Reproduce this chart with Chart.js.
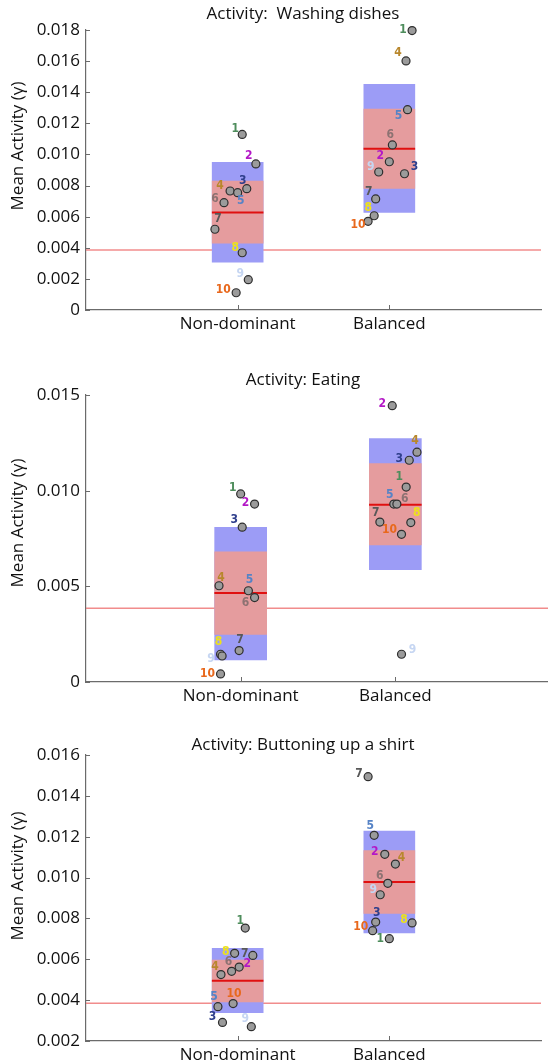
<!DOCTYPE html>
<html>
<head>
<meta charset="utf-8">
<script src="https://cdn.jsdelivr.net/npm/chart.js@4.4.1/dist/chart.umd.min.js"></script>
<style>
  html, body { margin: 0; padding: 0; background: #fff; overflow: hidden; }
  body { width: 548px; height: 1063px; position: relative; }
  .panel { position: absolute; left: 0; }
</style>
</head>
<body>
<div class="panel" style="top:0px"><canvas id="wash" width="548" height="345"></canvas></div>
<div class="panel" style="top:360px"><canvas id="eat" width="556" height="355"></canvas></div>
<div class="panel" style="top:725px"><canvas id="shirt" width="548" height="338"></canvas></div>
<script>
const categories = ["Non-dominant", "Balanced"];
const subjects = ["1", "2", "3", "4", "5", "6", "7", "8", "9", "10"];
const subjectColors = ["#4e8d5c", "#b318c6", "#2f3f8c", "#b8872c", "#5683c6", "#8d7272", "#585858", "#eee21a", "#c6d6f2", "#e8681c"];
const yLabel = "Mean Activity (\u03b3)";
const threshold = 0.00385;

// Washing dishes
const washTitle = "Activity:  Washing dishes";
const washNonDom = [0.01129, 0.00939, 0.00780, 0.00765, 0.00754, 0.00690, 0.00519, 0.00368, 0.00195, 0.00111];
const washBalanced = [0.01796, 0.00953, 0.00876, 0.01601, 0.01288, 0.01061, 0.00714, 0.00606, 0.00887, 0.00570];
const washNonDomJitter = [0.03, 0.12, 0.06, -0.05, 0.00, -0.09, -0.15, 0.03, 0.07, -0.01];
const washBalancedJitter = [0.15, 0.00, 0.10, 0.11, 0.12, 0.02, -0.09, -0.10, -0.07, -0.14];
const washMean = [0.00626, 0.01037];
const washSd = [[0.00307, 0.00949], [0.00628, 0.01451]];
const washSem = [[0.00429, 0.00829], [0.00782, 0.01292]];
const washTicks = [0, 0.002, 0.004, 0.006, 0.008, 0.010, 0.012, 0.014, 0.016, 0.018];

// Eating
const eatTitle = "Activity: Eating";
const eatNonDom = [0.00983, 0.00930, 0.00809, 0.00503, 0.00477, 0.00441, 0.00164, 0.00145, 0.00136, 0.00042];
const eatBalanced = [0.01019, 0.01444, 0.01159, 0.01201, 0.00930, 0.00930, 0.00836, 0.00833, 0.00145, 0.00772];
const eatNonDomJitter = [0.00, 0.09, 0.01, -0.14, 0.05, 0.09, -0.01, -0.13, -0.12, -0.13];
const eatBalancedJitter = [0.07, -0.02, 0.09, 0.14, -0.01, 0.01, -0.10, 0.10, 0.04, 0.04];
const eatMean = [0.00465, 0.00927];
const eatSd = [[0.00115, 0.00809], [0.00587, 0.01272]];
const eatSem = [[0.00249, 0.00680], [0.00716, 0.01141]];
const eatTicks = [0, 0.005, 0.010, 0.015];

// Buttoning up a shirt
const shirtTitle = "Activity: Buttoning up a shirt";
const shirtNonDom = [0.00753, 0.00562, 0.00291, 0.00525, 0.00368, 0.00541, 0.00619, 0.00629, 0.00270, 0.00383];
const shirtBalanced = [0.00701, 0.01114, 0.00782, 0.01066, 0.01207, 0.00972, 0.01494, 0.00778, 0.00916, 0.00740];
const shirtNonDomJitter = [0.05, 0.01, -0.10, -0.11, -0.13, -0.04, 0.10, -0.02, 0.09, -0.03];
const shirtBalancedJitter = [0.00, -0.03, -0.09, 0.04, -0.10, -0.01, -0.14, 0.15, -0.06, -0.11];
const shirtMean = [0.00495, 0.00978];
const shirtSd = [[0.00339, 0.00654], [0.00729, 0.01228]];
const shirtSem = [[0.00391, 0.00596], [0.00825, 0.01132]];
const shirtTicks = [0.002, 0.004, 0.006, 0.008, 0.010, 0.012, 0.014, 0.016];

// where each subject number sits next to its dot (px from dot centre)
const washNonDomLabels = [[-7,-6],[-7,-8],[-4,-8],[-10,-5],[3,8],[-9,-4],[3,-10],[-7,-5],[-8,-6],[-13,-3]];
const washBalancedLabels = [[-9,-1],[-9,-6],[10,-7],[-8,-8],[-9,6],[-2,-10],[-7,-7],[-6,-8],[-8,-5],[-10,4]];
const eatNonDomLabels = [[-8,-6],[-9,-1],[-8,-7],[2,-8],[1,-11],[-9,5],[1,-11],[-2,-12],[-11,3],[-13,0]];
const eatBalancedLabels = [[-7,-10],[-10,-2],[-10,-1],[-2,-11],[-4,-9],[8,-5],[-4,-9],[6,-10],[11,-4],[-12,-4]];
const shirtNonDomLabels = [[-5,-7],[8,-3],[-10,-6],[-6,-8],[-4,-10],[-3,-9],[-8,-2],[-9,-1],[-6,-8],[1,-10]];
const shirtBalancedLabels = [[-9,0],[-10,-2],[1,-9],[6,-6],[-4,-9],[-8,-7],[-9,-3],[-8,-3],[-7,-5],[-12,-4]];

const axisColor = "#6b6b6b";
const mainFont = "'Open Sans', 'DejaVu Sans', sans-serif";
const boxHalf = 0.17;

const panelDecor = {
    id: "panelDecor",
    afterDatasetsDraw(chart) {
        let ctx = chart.ctx;
        ctx.save();
        ctx.font = "bold 12px 'Liberation Sans Narrow', 'DejaVu Sans Condensed', sans-serif";
        ctx.textAlign = "center";
        ctx.textBaseline = "middle";
        chart.data.datasets.forEach((ds, i) => {
            if (!ds.labelOffsets) return;
            chart.getDatasetMeta(i).data.forEach((pt, j) => {
                ctx.fillStyle = subjectColors[j];
                ctx.fillText(subjects[j], pt.x + ds.labelOffsets[j][0], pt.y + ds.labelOffsets[j][1]);
            });
        });
        ctx.restore();
    },
    afterDraw(chart, args, opts) {
        let ctx = chart.ctx;
        let xs = chart.scales.x, ys = chart.scales.y;
        let area = chart.chartArea;
        ctx.save();
        // inward tick marks
        ctx.strokeStyle = axisColor;
        ctx.lineWidth = 1;
        ctx.beginPath();
        for (let t of ys.ticks) {
            let py = Math.round(ys.getPixelForValue(t.value)) + 0.5;
            ctx.moveTo(area.left, py);
            ctx.lineTo(area.left + 4, py);
        }
        for (let t of xs.ticks) {
            let px = Math.round(xs.getPixelForValue(t.value)) + 0.5;
            ctx.moveTo(px, area.bottom);
            ctx.lineTo(px, area.bottom - 5);
        }
        ctx.stroke();
        // title
        ctx.fillStyle = "#111";
        ctx.font = "17px " + mainFont;
        ctx.textAlign = "center";
        ctx.textBaseline = "middle";
        ctx.fillText(opts.title, opts.titleX, opts.titleY);
        // y axis title
        ctx.translate(18, opts.yLabelY);
        ctx.rotate(-Math.PI / 2);
        ctx.font = "17px " + mainFont;
        ctx.fillText(yLabel, 0, 0);
        ctx.restore();
    }
};

function makePanel(id, cfg) {
    let points = (vals, jit, cat) => vals.map((v, i) => ({ x: cat + jit[i], y: v }));
    let datasets = [
        {
            type: "line",
            data: [{ x: 0, y: threshold }, { x: 3, y: threshold }],
            borderColor: "rgba(238, 120, 120, 0.85)",
            borderWidth: 1.5,
            pointRadius: 0,
            order: 6
        },
        {
            type: "bar",
            data: categories.map((c, i) => ({ x: i + 1, y: cfg.sd[i] })),
            backgroundColor: "#9c9cf6",
            barThickness: cfg.boxWidth,
            grouped: false,
            order: 5
        },
        {
            type: "bar",
            data: categories.map((c, i) => ({ x: i + 1, y: cfg.sem[i] })),
            backgroundColor: "#e59c9e",
            barThickness: cfg.boxWidth,
            grouped: false,
            order: 4
        }
    ];
    categories.forEach((c, i) => {
        datasets.push({
            type: "line",
            data: [{ x: i + 1 - boxHalf, y: cfg.mean[i] }, { x: i + 1 + boxHalf, y: cfg.mean[i] }],
            borderColor: "#e01010",
            borderWidth: 2,
            pointRadius: 0,
            order: 3
        });
    });
    datasets.push({
        type: "scatter",
        data: points(cfg.nonDom, cfg.nonDomJitter, 1),
        labelOffsets: cfg.nonDomLabels,
        backgroundColor: "#9b9b9b",
        borderColor: "#2e2e2e",
        borderWidth: 1.2,
        pointRadius: 4,
        clip: false,
        order: 1
    });
    datasets.push({
        type: "scatter",
        data: points(cfg.balanced, cfg.balancedJitter, 2),
        labelOffsets: cfg.balancedLabels,
        backgroundColor: "#9b9b9b",
        borderColor: "#2e2e2e",
        borderWidth: 1.2,
        pointRadius: 4,
        clip: false,
        order: 1
    });

    new Chart(document.getElementById(id), {
        type: "scatter",
        data: { datasets: datasets },
        plugins: [panelDecor],
        options: {
            responsive: false,
            animation: false,
            layout: { padding: { top: cfg.plotTop, right: cfg.padRight, left: 0, bottom: 0 } },
            scales: {
                x: {
                    type: "linear",
                    min: 0,
                    max: 3,
                    offset: false,
                    grid: { display: true, drawOnChartArea: false, drawTicks: false },
                    border: { display: true, color: axisColor, width: 1.2 },
                    afterBuildTicks: (scale) => { scale.ticks = categories.map((c, i) => ({ value: i + 1 })); },
                    afterFit: (scale) => { scale.height = cfg.height - cfg.plotBottom; },
                    ticks: {
                        color: "#111",
                        padding: 4,
                        font: { family: mainFont, size: 17 },
                        callback: (v) => categories[v - 1]
                    }
                },
                y: {
                    min: cfg.ticks[0],
                    max: cfg.ticks[cfg.ticks.length - 1],
                    grid: { display: true, drawOnChartArea: false, drawTicks: false },
                    border: { display: true, color: axisColor, width: 1.2 },
                    afterBuildTicks: (scale) => { scale.ticks = cfg.ticks.map((v) => ({ value: v })); },
                    afterFit: (scale) => { scale.width = 86; },
                    ticks: {
                        color: "#111",
                        padding: 6,
                        font: { family: mainFont, size: 17 },
                        callback: (v) => v === 0 ? "0" : v.toFixed(3)
                    }
                }
            },
            plugins: {
                legend: { display: false },
                tooltip: { enabled: false },
                panelDecor: { title: cfg.title, titleX: 303, titleY: cfg.titleY, yLabelY: cfg.yLabelY }
            }
        }
    });
}

makePanel("wash", {
    title: washTitle, titleY: 14, yLabelY: 146, height: 345, plotTop: 30, plotBottom: 310, padRight: 7, boxWidth: 51,
    nonDom: washNonDom, balanced: washBalanced, nonDomJitter: washNonDomJitter, balancedJitter: washBalancedJitter,
    nonDomLabels: washNonDomLabels, balancedLabels: washBalancedLabels,
    mean: washMean, sd: washSd, sem: washSem, ticks: washTicks
});
makePanel("eat", {
    title: eatTitle, titleY: 20, yLabelY: 163, height: 355, plotTop: 35, plotBottom: 322, padRight: 6, boxWidth: 52,
    nonDom: eatNonDom, balanced: eatBalanced, nonDomJitter: eatNonDomJitter, balancedJitter: eatBalancedJitter,
    nonDomLabels: eatNonDomLabels, balancedLabels: eatBalancedLabels,
    mean: eatMean, sd: eatSd, sem: eatSem, ticks: eatTicks
});
makePanel("shirt", {
    title: shirtTitle, titleY: 20, yLabelY: 151, height: 338, plotTop: 30, plotBottom: 316, padRight: 7, boxWidth: 51,
    nonDom: shirtNonDom, balanced: shirtBalanced, nonDomJitter: shirtNonDomJitter, balancedJitter: shirtBalancedJitter,
    nonDomLabels: shirtNonDomLabels, balancedLabels: shirtBalancedLabels,
    mean: shirtMean, sd: shirtSd, sem: shirtSem, ticks: shirtTicks
});
</script>
</body>
</html>
